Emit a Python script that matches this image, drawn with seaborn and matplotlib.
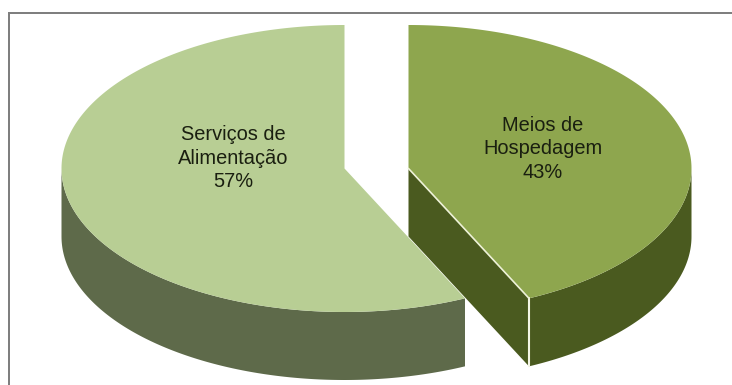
import numpy as np
import seaborn as sns
import matplotlib
matplotlib.use("Agg")
import matplotlib.pyplot as plt
from matplotlib.patches import Polygon

# Share of establishments by type
labels = ["Meios de\nHospedagem", "Serviços de\nAlimentação"]
shares = [43, 57]
top_colors = ["#8ea64e", "#b8ce94"]
wall_colors = ["#4a5a1f", "#5e6a4a"]

sns.set_theme(style="white")
plt.rcParams["font.family"] = ["Liberation Sans", "DejaVu Sans"]

W, H = 732, 385
fig = plt.figure(figsize=(W / 100, H / 100), dpi=100)
ax = fig.add_axes([0, 0, 1, 1])
ax.set_xlim(0, W)
ax.set_ylim(H, 0)
ax.axis("off")

RX, RY, DEPTH = 283, 143.5, 68
CY = 168.5
APEX_X = [408.5, 344.5]
LABEL_POS = [(543, 149), (233, 158)]


def rim(cx, a0, a1, dy=0):
    """Points along the pie rim between two angles, measured clockwise from 12 o'clock."""
    t = np.radians(np.linspace(a0, a1, 200))
    return np.column_stack([cx + RX * np.sin(t), CY + dy - RY * np.cos(t)])


start = 0.0
spans = []
for s in shares:
    spans.append((start, start + s / sum(shares) * 360))
    start = spans[-1][1]

# Side walls first, so that the top faces sit over them
for i, (a0, a1) in enumerate(spans):
    cx = APEX_X[i]
    front0, front1 = max(a0, 90), min(a1, 270)
    if front1 > front0:
        upper = rim(cx, front0, front1)
        lower = rim(cx, front0, front1, DEPTH)
        ax.add_patch(Polygon(np.vstack([upper, lower[::-1]]), closed=True,
                             fc=wall_colors[i], ec="none", zorder=1))

# Cut face of the right slice, visible through the gap
end = rim(APEX_X[0], spans[0][1], spans[0][1])[0]
cut = [(APEX_X[0], CY), tuple(end), (end[0], end[1] + DEPTH), (APEX_X[0], CY + DEPTH)]
ax.add_patch(Polygon(cut, closed=True, fc=wall_colors[0], ec="none", zorder=2))
ax.plot([end[0], end[0]], [end[1], end[1] + DEPTH], color="#f4f6e6", lw=1.5, zorder=4)

# Top faces
for i, (a0, a1) in enumerate(spans):
    cx = APEX_X[i]
    pts = np.vstack([[cx, CY], rim(cx, a0, a1)])
    ax.add_patch(Polygon(pts, closed=True, fc=top_colors[i], ec="none", zorder=3))
ax.plot([APEX_X[0], end[0]], [CY, end[1]], color="#eef2d8", lw=1.2, zorder=4)

# Slice captions
for i, (x, y) in enumerate(LABEL_POS):
    ax.text(x, y, f"{labels[i]}\n{shares[i]}%", ha="center", va="center",
            fontsize=14.4, color="#1a1f10", linespacing=1.27, zorder=5)

# Frame: only the top and left rules, running off the canvas
ax.plot([9, 9, W], [H, 13, 13], color="#7f7f7f", lw=1.44,
        solid_joinstyle="miter", clip_on=False, zorder=6)

fig.savefig("out.png", dpi=100)
